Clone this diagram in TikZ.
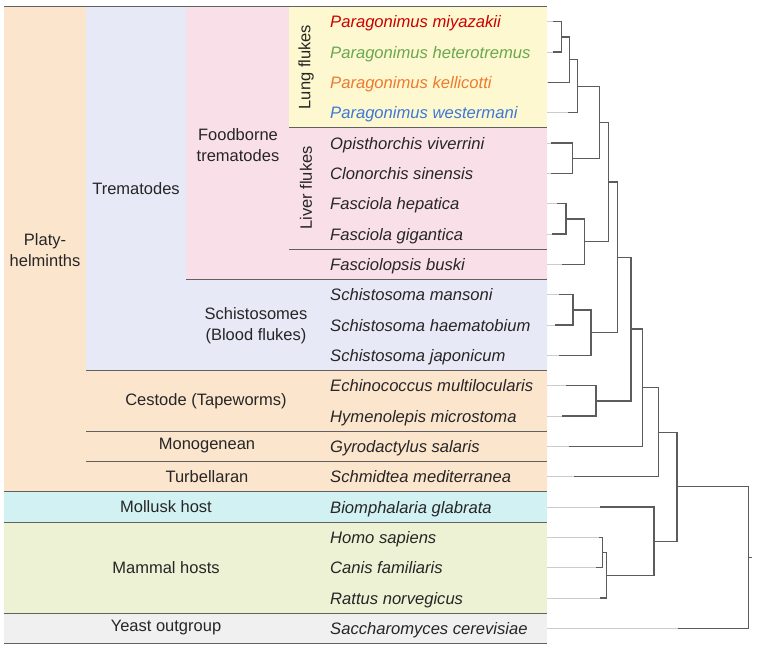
\documentclass[tikz,border=0pt]{standalone}
\usepackage{fontspec}
\setmainfont{Liberation Sans}
\definecolor{platyFill}{HTML}{FCE5CD}
\definecolor{tremaFill}{HTML}{E7EAF6}
\definecolor{foodFill}{HTML}{F9E0E8}
\definecolor{lungFill}{HTML}{FDF8CF}
\definecolor{molluskFill}{HTML}{D2F1F2}
\definecolor{mammalFill}{HTML}{EEF2D4}
\definecolor{yeastFill}{HTML}{F0F0F0}
\definecolor{flukeRed}{HTML}{CC0000}
\definecolor{flukeGreen}{HTML}{6AA84F}
\definecolor{flukeOrange}{HTML}{EE7A2F}
\definecolor{flukeBlue}{HTML}{3D78D8}
\definecolor{inkGray}{HTML}{262626}
\tikzset{
  clado panel/.style={
    x=1pt,
    y=-1pt,
    line cap=butt,
    line join=miter
  },
  clade label/.style={
    font=\fontsize{16.5}{21}\selectfont,
    text=inkGray,
    align=center,
    inner sep=0pt
  },
  taxon label/.style={
    font=\fontsize{16.6}{21}\selectfont\itshape,
    anchor=base west,
    inner sep=0pt
  },
  group rule/.style={
    draw=black!62,
    line width=1pt
  },
  tree branch/.style={
    draw=black!64,
    line width=1.3pt
  },
  tree guide/.style={
    draw=black!20,
    line width=0.9pt
  }
}

\begin{document}
\begin{tikzpicture}[clado panel]
  \fill[white] (0,0) rectangle (757,649);
  \useasboundingbox (0,0) rectangle (757,649);
  % coloured bands
  \fill[platyFill] (4,6.6) rectangle (86,491.9) (86,370.6) rectangle (547,491.9);
  \fill[tremaFill] (86,6.6) rectangle (186,370.6) (186,279.6) rectangle (547,370.6);
  \fill[foodFill] (186,6.6) rectangle (289,279.6) (289,127.9) rectangle (547,279.6);
  \fill[lungFill] (289,6.6) rectangle (547,127.9);
  \fill[molluskFill] (4,491.9) rectangle (547,522.3);
  \fill[mammalFill] (4,522.3) rectangle (547,613.3);
  \fill[yeastFill] (4,613.3) rectangle (547,643.6);
  \draw[group rule] (4,6.6) -- (547,6.6);
  \draw[group rule] (289,127.9) -- (547,127.9);
  \draw[group rule] (289,249.2) -- (547,249.2);
  \draw[group rule] (186,279.6) -- (547,279.6);
  \foreach \ry in {370.6,431.3,461.6}
    \draw[group rule] (86,\ry) -- (547,\ry);
  \foreach \ry in {491.9,522.3,613.3,643.6}
    \draw[group rule] (4,\ry) -- (547,\ry);

  \node[clade label] (platy) at (45,250) {Platy-\\helminths};
  \node[clade label] (trema) at (136,189) {Trematodes};
  \node[clade label] (food) at (238,145) {Foodborne\\trematodes};
  \node[clade label, rotate=90] (lung) at (306,67) {Lung flukes};
  \node[clade label, rotate=90] (liver) at (306,188) {Liver flukes};
  \node[clade label] (schisto) at (256,326) {Schistosomes\\(Blood flukes)};
  \node[clade label] (cestode) at (206,401) {Cestode (Tapeworms)};
  \node[clade label] (mono) at (207,446) {Monogenean};
  \node[clade label] (turb) at (207,477) {Turbellaran};
  \node[clade label] (mollusk) at (166,507) {Mollusk host};
  \node[clade label] (mammal) at (166,568) {Mammal hosts};
  \node[clade label] (yeast) at (166,628) {Yeast outgroup};

  % taxa, with the pale guide out to each tip
  \foreach \i/\tip/\taxon/\col in {
      0/553/Paragonimus miyazakii/flukeRed,
      1/553/Paragonimus heterotremus/flukeGreen,
      2/548/Paragonimus kellicotti/flukeOrange,
      3/568/Paragonimus westermani/flukeBlue,
      4/551/Opisthorchis viverrini/inkGray,
      5/551/Clonorchis sinensis/inkGray,
      6/557/Fasciola hepatica/inkGray,
      7/552/Fasciola gigantica/inkGray,
      8/562/Fasciolopsis buski/inkGray,
      9/559/Schistosoma mansoni/inkGray,
      10/555/Schistosoma haematobium/inkGray,
      11/559/Schistosoma japonicum/inkGray,
      12/566/Echinococcus multilocularis/inkGray,
      13/562/Hymenolepis microstoma/inkGray,
      14/569/Gyrodactylus salaris/inkGray,
      15/574/Schmidtea mediterranea/inkGray,
      16/600/Biomphalaria glabrata/inkGray,
      17/598.5/Homo sapiens/inkGray,
      18/596/Canis familiaris/inkGray,
      19/600/Rattus norvegicus/inkGray,
      20/677.7/Saccharomyces cerevisiae/inkGray}
  {
    \pgfmathsetmacro{\ry}{21.8+30.33*\i}
    \node[taxon label, text=\col] (t\i) at (330,\ry+6) {\taxon};
    \coordinate (g\i) at (547,\ry);
    \coordinate (l\i) at (\tip,\ry);
    \draw[tree guide] (g\i) -- (l\i);
  }

  % internal nodes of the tree
  \coordinate (n1) at (561.7,36.97);
  \coordinate (n2) at (569.3,59.7);
  \coordinate (n3) at (577.3,86.25);
  \coordinate (n4) at (572.3,158.3);
  \coordinate (n5) at (599.7,122.3);
  \coordinate (n6) at (566,218.9);
  \coordinate (n7) at (584.3,241.7);
  \coordinate (n8) at (608.3,182);
  \coordinate (n9) at (573,309.9);
  \coordinate (n10) at (591,332.7);
  \coordinate (n11) at (617.7,257.3);
  \coordinate (n12) at (596,400.9);
  \coordinate (n13) at (631,329.1);
  \coordinate (n14) at (642.7,387.8);
  \coordinate (n15) at (658.3,432.3);
  \coordinate (n16) at (602.7,552.6);
  \coordinate (n17) at (606.7,575.3);
  \coordinate (n18) at (654,541.2);
  \coordinate (n19) at (677,486.7);
  \coordinate (root) at (748.3,557.6);
  \coordinate (stub) at (751.5,557.6);

  \foreach \kid/\up in {l0/n1, l1/n1, n1/n2, l2/n2, n2/n3, l3/n3,
      l4/n4, l5/n4, n3/n5, n4/n5, l6/n6, l7/n6, n6/n7, l8/n7,
      n5/n8, n7/n8, l9/n9, l10/n9, n9/n10, l11/n10, n8/n11, n10/n11,
      l12/n12, l13/n12, n11/n13, n12/n13, n13/n14, l14/n14,
      n14/n15, l15/n15, l17/n16, l18/n16, n16/n17, l19/n17,
      l16/n18, n17/n18, n15/n19, n18/n19, n19/root, l20/root}
    \draw[tree branch] (\kid) -| (\up);
  \draw[tree branch] (root) -- (stub);
\end{tikzpicture}
\end{document}
